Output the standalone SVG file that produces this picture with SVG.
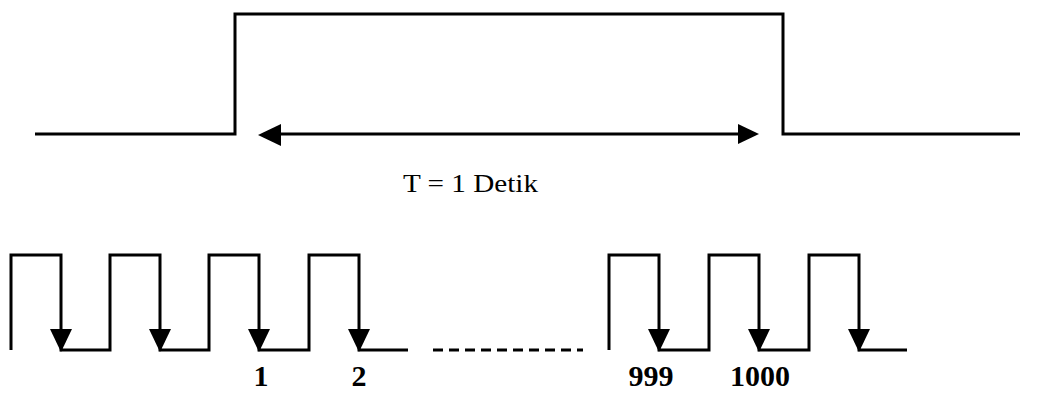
<svg xmlns="http://www.w3.org/2000/svg" width="1050" height="393" viewBox="0 0 1050 393">
<style>
.w{fill:none;stroke:#000;stroke-width:3;stroke-linejoin:miter;stroke-linecap:butt}
.ah{fill:#000;stroke:none}
.t{font-family:"Liberation Serif","Times New Roman",serif;fill:#000}
.n{font-family:"Liberation Serif","Times New Roman",serif;font-weight:bold;font-size:30px;fill:#000;text-anchor:middle}
</style>
<rect width="1050" height="393" fill="#fff"/>
<g id="gate-signal">
<polyline class="w" points="35,134 235,134 235,14 783,14 783,134 1020,134"/>
</g>
<g id="period-arrow">
<line class="w" x1="272" y1="134" x2="748" y2="134"/>
<polygon class="ah" points="258,135 281,124 281,146"/>
<polygon class="ah" points="759,134 738,124 738,144"/>
<text class="t" x="403" y="192" font-size="25" textLength="135" lengthAdjust="spacingAndGlyphs">T = 1 Detik</text>
</g>
<g id="clock-left">
<polyline class="w" points="11,350 11,255 61,255 61,350 110,350 110,255 160,255 160,350 209,350 209,255 259,255 259,350 309,350 309,255 359,255 359,350 408,350"/>
<polygon class="ah" points="50,329 72,329 61,352"/>
<polygon class="ah" points="149,329 171,329 160,352"/>
<polygon class="ah" points="248,329 270,329 259,352"/>
<polygon class="ah" points="348,329 370,329 359,352"/>
</g>
<g id="ellipsis">
<line x1="433" y1="350" x2="583" y2="350" stroke="#000" stroke-width="3" stroke-dasharray="10,6"/>
</g>
<g id="clock-right">
<polyline class="w" points="609,350 609,255 659,255 659,350 709,350 709,255 759,255 759,350 809,350 809,255 859,255 859,350 907,350"/>
<polygon class="ah" points="648,329 670,329 659,352"/>
<polygon class="ah" points="748,329 770,329 759,352"/>
<polygon class="ah" points="848,329 870,329 859,352"/>
</g>
<g id="labels">
<text class="n" x="261" y="386">1</text>
<text class="n" x="359" y="386">2</text>
<text class="n" x="651" y="386">999</text>
<text class="n" x="760" y="386">1000</text>
</g>
</svg>
